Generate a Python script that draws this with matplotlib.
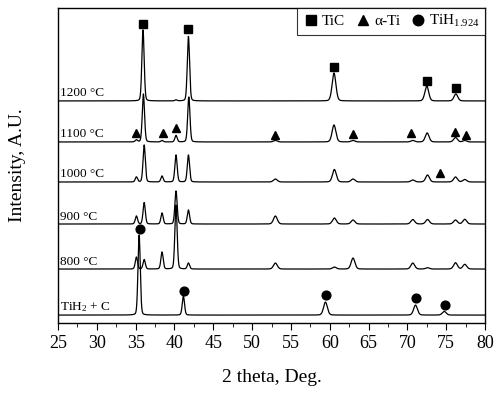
import numpy as np
import matplotlib
matplotlib.use('Agg')
import matplotlib.pyplot as plt
from matplotlib.ticker import MultipleLocator

plt.rcParams['font.family'] = ['Liberation Serif', 'DejaVu Serif']
plt.rcParams['mathtext.fontset'] = 'custom'
plt.rcParams['mathtext.rm'] = 'Liberation Serif'
plt.rcParams['mathtext.it'] = 'Liberation Serif:italic'

# Patterns (bottom to top): label, baseline offset, peak positions (2theta), peak heights
labels = ['TiH$_2$ + C', '800 °C', '900 °C', '1000 °C', '1100 °C', '1200 °C']
offsets = [8, 54, 99, 141, 181, 222]

peaks_tih2 = [35.45, 41.15, 59.45, 71.05, 74.75]
heights_tih2 = [80, 19, 13, 10, 3.7]

peaks_800 = [35.1, 36.1, 38.4, 40.2, 41.8, 53.0, 60.6, 63.0, 70.7, 72.6, 76.2, 77.4]
heights_800 = [12, 9.5, 17, 64, 6, 6, 2, 11, 6, 1.3, 6.3, 4.7]

peaks_900 = [35.1, 36.1, 38.4, 40.2, 41.8, 53.0, 60.6, 63.0, 70.7, 72.6, 76.2, 77.4]
heights_900 = [8, 21.5, 11, 33, 14, 8, 6, 4, 4.5, 4.5, 4, 4.7]

peaks_1000 = [35.1, 36.1, 38.4, 40.2, 41.8, 53.0, 60.6, 63.0, 70.7, 72.6, 76.2, 77.4]
heights_1000 = [5, 37, 6, 27, 27, 3, 12.5, 3, 2, 7, 5, 2.5]

peaks_1100 = [35.1, 36.0, 38.4, 40.2, 41.85, 53.0, 60.55, 63.0, 70.7, 72.55, 76.2, 77.4]
heights_1100 = [2, 48, 1.5, 6.5, 45, 1.5, 17, 1.5, 1.5, 9, 4.5, 1.5]

peaks_1200 = [35.95, 40.2, 41.8, 60.55, 72.5, 76.25]
heights_1200 = [71, 1, 64.5, 28, 15, 7]

all_peaks = [peaks_tih2, peaks_800, peaks_900, peaks_1000, peaks_1100, peaks_1200]
all_heights = [heights_tih2, heights_800, heights_900, heights_1000, heights_1100, heights_1200]

# Phase markers: 2theta positions and marker heights
tic_x = [35.95, 41.8, 60.55, 72.5, 76.25]
tic_y = [299, 294, 256, 242, 235]
ti_x = [35.1, 38.5, 40.25, 53.0, 63.0, 70.5, 76.1, 77.5, 74.2]
ti_y = [190, 190, 195, 188, 189, 190, 191, 188, 150]
tih_x = [35.5, 41.2, 59.5, 71.1, 74.8]
tih_y = [94, 32, 28, 25, 18]


def profile(x, centers, amps):
    # pseudo-Voigt peaks, broader at high angle
    y = np.zeros_like(x)
    for c, a in zip(centers, amps):
        w = 0.15 if c < 45 else 0.25
        g = np.exp(-0.5 * ((x - c) / w) ** 2)
        l = w ** 2 / ((x - c) ** 2 + w ** 2)
        y += a * (0.8 * g + 0.2 * l)
    return y


tt = np.linspace(25, 80, 5000)

fig = plt.figure(figsize=(5.0, 3.94), dpi=100)
ax = fig.add_axes([0.116, 0.180, 0.854, 0.800])

for lab, off, pk, hh in zip(labels, offsets, all_peaks, all_heights):
    ax.plot(tt, off + profile(tt, pk, hh), color='black', lw=0.9)
    ax.text(25.2, off + 1.5, lab, fontsize=9.5, ha='left', va='bottom')

ax.plot(tic_x, tic_y, 's', color='black', ms=5.8, ls='none', label='TiC')
ax.plot(ti_x, ti_y, '^', color='black', ms=6.3, ls='none', label='α-Ti')
ax.plot(tih_x, tih_y, 'o', color='black', ms=6.3, ls='none', label='TiH$_{1.924}$')

leg = ax.legend(loc='upper right', ncol=3, frameon=True, fancybox=False,
                edgecolor='black', fontsize=11, borderaxespad=0,
                handletextpad=0.1, columnspacing=0.6, handlelength=1.2,
                borderpad=0.35, markerscale=1.2)
leg.get_frame().set_linewidth(0.8)

ax.set_xlim(25, 80)
ax.set_ylim(0, 315)
ax.xaxis.set_major_locator(MultipleLocator(5))
ax.xaxis.set_minor_locator(MultipleLocator(2.5))
ax.tick_params(axis='x', which='major', direction='out', length=5, labelsize=13)
ax.tick_params(axis='x', which='minor', direction='out', length=3)
ax.set_yticks([])
for s in ax.spines.values():
    s.set_linewidth(1.0)

ax.set_xlabel('2 theta, Deg.', fontsize=14, labelpad=12)
ax.set_ylabel('Intensity, A.U.', fontsize=14, labelpad=23)

fig.savefig('out.png', dpi=100)
